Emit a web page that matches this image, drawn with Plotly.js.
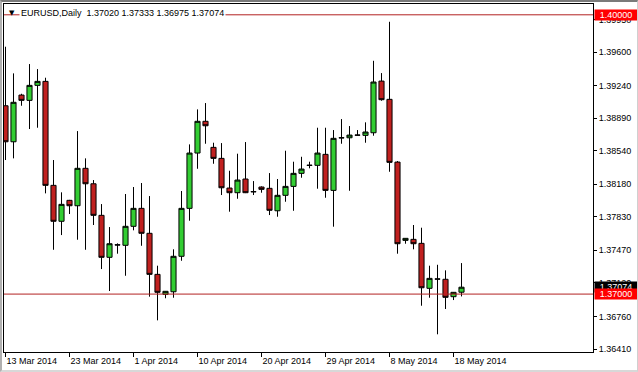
<!DOCTYPE html>
<html><head><meta charset="utf-8">
<script src="https://cdn.plot.ly/plotly-3.0.1.min.js"></script>
<style>
html,body{margin:0;padding:0;background:#fff;}
#c{width:638px;height:372px;position:absolute;left:0;top:0;}
#f{position:absolute;left:0;top:0;width:638px;height:372px;box-sizing:border-box;border-top:2px solid #7a7a7a;border-left:2px solid #b0b0b0;border-right:1px solid #d0d0d0;border-bottom:2px solid #d8d8d8;pointer-events:none;}
</style></head><body>
<div id="c"></div><div id="f"></div>
<script>
const dates = ['2014-03-13','2014-03-14','2014-03-16','2014-03-17','2014-03-18','2014-03-19','2014-03-20','2014-03-21',
'2014-03-23','2014-03-24','2014-03-25','2014-03-26','2014-03-27','2014-03-28','2014-03-30','2014-03-31',
'2014-04-01','2014-04-02','2014-04-03','2014-04-04','2014-04-06','2014-04-07','2014-04-08','2014-04-09',
'2014-04-10','2014-04-11','2014-04-13','2014-04-14','2014-04-15','2014-04-16','2014-04-17','2014-04-18',
'2014-04-20','2014-04-21','2014-04-22','2014-04-23','2014-04-24','2014-04-25','2014-04-27','2014-04-28',
'2014-04-29','2014-04-30','2014-05-01','2014-05-02','2014-05-04','2014-05-05','2014-05-06','2014-05-07',
'2014-05-08','2014-05-09','2014-05-11','2014-05-12','2014-05-13','2014-05-14','2014-05-15','2014-05-16',
'2014-05-18','2014-05-19'];
const open = [1.39023,1.38636,1.39138,1.39081,1.39242,1.39285,1.38168,1.37782,
1.38007,1.37949,1.38351,1.38185,1.37846,1.37395,1.37527,1.37524,
1.37728,1.37921,1.37653,1.37212,1.36997,1.37025,1.37406,1.37921,
1.38515,1.38856,1.38576,1.38458,1.38139,1.38089,1.38236,1.38101,
1.38150,1.38136,1.37895,1.38061,1.38157,1.38297,1.38382,1.38383,
1.38501,1.38114,1.38680,1.38679,1.38708,1.38705,1.38733,1.39288,
1.39092,1.38418,1.37577,1.37588,1.37545,1.37062,1.37163,1.37159,
1.36972,1.37020];
const high = [1.39657,1.39371,1.39152,1.39471,1.39417,1.39324,1.38440,1.38093,
1.38012,1.38751,1.38458,1.38225,1.37967,1.37720,1.37545,1.38075,
1.38150,1.38193,1.38053,1.37305,1.37033,1.37481,1.38107,1.38608,
1.38984,1.39052,1.38626,1.38622,1.38325,1.38508,1.38633,1.38214,
1.38157,1.38300,1.38236,1.38540,1.38422,1.38475,1.38422,1.38787,
1.38787,1.38762,1.38880,1.38805,1.38762,1.38845,1.39506,1.39374,
1.39925,1.38429,1.37602,1.37742,1.37713,1.37305,1.37315,1.37255,
1.37022,1.37333];
const low = [1.38440,1.38458,1.39023,1.38773,1.38787,1.38082,1.37476,1.37634,
1.37860,1.37584,1.37476,1.37742,1.37269,1.37033,1.37434,1.37197,
1.37685,1.37519,1.36972,1.36718,1.36955,1.36961,1.37358,1.37788,
1.38346,1.38615,1.38400,1.38064,1.37885,1.38024,1.38085,1.38064,
1.38089,1.37849,1.37831,1.37992,1.37895,1.38250,1.38351,1.38132,
1.38035,1.37724,1.38615,1.38110,1.38706,1.38626,1.38701,1.39077,
1.38314,1.37434,1.37541,1.37481,1.36875,1.36961,1.36568,1.36840,
1.36936,1.36975];
const close = [1.38636,1.39060,1.39081,1.39242,1.39285,1.38168,1.37782,1.37964,
1.37949,1.38351,1.38185,1.37846,1.37395,1.37541,1.37529,1.37728,
1.37921,1.37653,1.37212,1.37019,1.37030,1.37406,1.37921,1.38515,
1.38856,1.38808,1.38458,1.38142,1.38089,1.38225,1.38089,1.38099,
1.38125,1.37900,1.38061,1.38157,1.38297,1.38343,1.38384,1.38515,
1.38114,1.38673,1.38678,1.38708,1.38707,1.38741,1.39278,1.39088,
1.38415,1.37541,1.37599,1.37541,1.37068,1.37169,1.37161,1.36965,
1.37019,1.37074];
const tickDates = ['2014-03-13','2014-03-23','2014-04-01','2014-04-10','2014-04-20','2014-04-29','2014-05-08','2014-05-18'];
const tickLabels = ['13 Mar 2014','23 Mar 2014','1 Apr 2014','10 Apr 2014','20 Apr 2014','29 Apr 2014','8 May 2014','18 May 2014'];
const priceTicks = [1.39950,1.39600,1.39240,1.38890,1.38540,1.38180,1.37830,1.37470,1.37120,1.36760,1.36410];
const levels = [1.40000, 1.37000];
const symbol = 'EURUSD', period = 'Daily';

const FONT = 'Liberation Sans, Arial, sans-serif';
const n = dates.length;
const header = symbol + ',' + period + '  ' + [open[n-1],high[n-1],low[n-1],close[n-1]].map(v=>v.toFixed(5)).join(' ');

const trace = {
  type:'candlestick', x:dates, open:open, high:high, low:low, close:close,
  increasing:{line:{color:'#000000',width:1}, fillcolor:'#32cd32'},
  decreasing:{line:{color:'#000000',width:1}, fillcolor:'#c0201f'},
  whiskerwidth:0, hoverinfo:'none', showlegend:false
};

const shapes = levels.map(v=>({type:'line', xref:'paper', x0:0, x1:1, yref:'y', y0:v, y1:v,
  line:{color:'#b22222', width:1}, layer:'above'}));

const annotations = [
  {xref:'paper', yref:'paper', x:0, y:1, xshift:8, yshift:-8.5, xanchor:'center', yanchor:'middle',
   text:'▼', showarrow:false, font:{family:'DejaVu Sans', size:7, color:'#000'}},
  {xref:'paper', yref:'paper', x:0, y:1, xshift:15, yshift:-9, xanchor:'left', yanchor:'middle',
   text:header, showarrow:false, bgcolor:'#ffffff', borderpad:1, font:{family:FONT, size:9, color:'#000'}},
  {xref:'paper', yref:'y', x:1, y:close[n-1], xshift:1, xanchor:'left', yanchor:'middle',
   text:close[n-1].toFixed(5), showarrow:false, bgcolor:'#000000', width:40, height:8, borderpad:1,
   font:{family:FONT, size:9, color:'#ffffff'}}
].concat(levels.map(v=>({xref:'paper', yref:'y', x:1, y:v, xshift:1, xanchor:'left', yanchor:'middle',
   text:v.toFixed(5), showarrow:false, bgcolor:'#ff0000', width:40, height:8, borderpad:1,
   font:{family:FONT, size:9, color:'#ffffff'}})));

const layout = {
  width:638, height:372, margin:{l:4, r:45, t:4, b:20},
  paper_bgcolor:'#ffffff', plot_bgcolor:'#ffffff',
  font:{family:FONT, size:9, color:'#000'},
  boxgap:0.2, boxgroupgap:0.2,
  xaxis:{type:'category', range:[-0.1875, 73.4375], rangeslider:{visible:false},
    tickmode:'array', tickvals:tickDates, ticktext:tickLabels, ticks:'outside', ticklen:4,
    tickcolor:'#000', ticklabelposition:'outside right', showgrid:false, zeroline:false,
    showline:true, linecolor:'#000', linewidth:1, mirror:true, fixedrange:true,
    tickfont:{family:FONT, size:9, color:'#000'}},
  yaxis:{side:'right', range:[1.36378, 1.40116], tickmode:'array', tickvals:priceTicks,
    ticktext:priceTicks.map(v=>v.toFixed(5)), ticks:'outside', ticklen:3, tickcolor:'#000',
    showgrid:false, zeroline:false, showline:true, linecolor:'#000', linewidth:1, mirror:true,
    fixedrange:true, tickfont:{family:FONT, size:9, color:'#000'}},
  shapes:shapes, annotations:annotations, hovermode:false
};
Plotly.newPlot('c', [trace], layout, {staticPlot:true, displayModeBar:false});
</script>
</body></html>
